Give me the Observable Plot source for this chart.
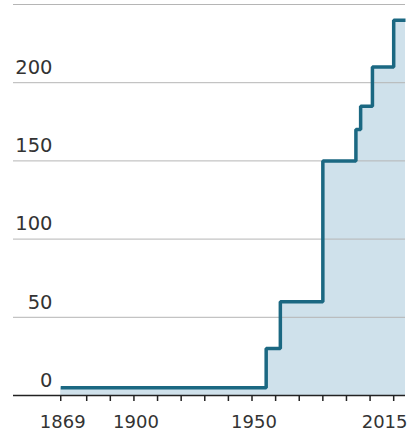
<!DOCTYPE html>
<html>
<head>
<meta charset="utf-8">
<script src="https://cdn.jsdelivr.net/npm/d3@7"></script>
<script src="https://cdn.jsdelivr.net/npm/@observablehq/plot@0.6"></script>
<style>
  html, body { margin: 0; padding: 0; background: #fff; }
  svg { display: block; }
</style>
</head>
<body>
<div id="chart"></div>
<script>
const years = [1869, 1956, 1962, 1980, 1994, 1996, 2001, 2010, 2015];
const values = [5, 30, 60, 150, 170, 185, 210, 240, 240];
const yTicks = [0, 50, 100, 150, 200, 250];
const yLabels = [0, 50, 100, 150, 200];
const xTickYears = [1869, 1880, 1890, 1900, 1910, 1920, 1930, 1940, 1950, 1960, 1970, 1980, 1990, 2000, 2010];
const xLabelYears = [1869, 1900, 1950];
const xLastLabel = [2015];

const data = years.map((y, i) => ({year: y, value: values[i]}));

const font = "'DejaVu Sans', sans-serif";

const chart = Plot.plot({
  width: 413,
  height: 433,
  marginLeft: 13,
  marginRight: 8,
  marginTop: 4,
  marginBottom: 38,
  style: {fontFamily: font, color: "#333", background: "#fff"},
  x: {domain: [1849, 2015], axis: null},
  y: {domain: [0, 250], axis: null},
  marks: [
    Plot.areaY(data, {x: "year", y: "value", curve: "step-after", fill: "#cfe1eb"}),
    Plot.gridY(yTicks.filter(d => d > 0), {stroke: "#b5b5b5", strokeOpacity: 1, strokeWidth: 1}),
    Plot.axisY(yLabels, {
      anchor: "left", label: null, tickSize: 0, tickPadding: 0, dx: 39, dy: -15,
      fontSize: 19.5, fill: "#333", textAnchor: "end"
    }),
    Plot.lineY(data, {x: "year", y: "value", curve: "step-after", stroke: "#1b6882", strokeWidth: 3.5, strokeLinejoin: "miter", strokeLinecap: "butt"}),
    Plot.ruleY([0], {stroke: "#222", strokeWidth: 1.5}),
    Plot.axisX(xTickYears, {anchor: "bottom", label: null, tickSize: 6, tickFormat: () => "", stroke: "#222", strokeWidth: 1.5}),
    Plot.axisX(xLabelYears, {anchor: "bottom", label: null, tickSize: 0, tickPadding: 20, tickFormat: d => String(d), fontSize: 18, fill: "#333", dx: 2}),
    Plot.axisX(xLastLabel, {anchor: "bottom", label: null, tickSize: 0, tickPadding: 20, tickFormat: d => String(d), fontSize: 18, fill: "#333", textAnchor: "end", dx: 2})
  ]
});

document.getElementById("chart").appendChild(chart);
</script>
</body>
</html>
